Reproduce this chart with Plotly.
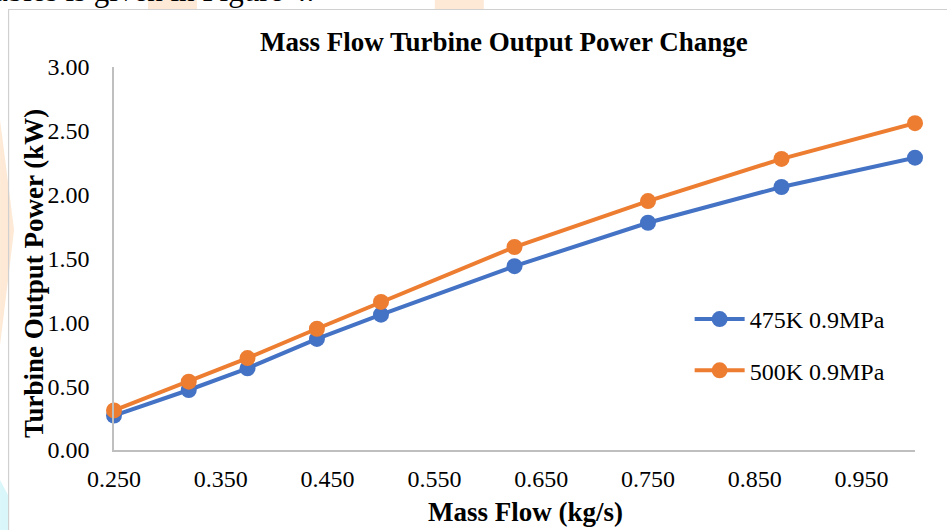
import plotly.graph_objects as go

# ---- data ----
mass_flow = [0.25, 0.32, 0.375, 0.44, 0.50, 0.625, 0.75, 0.875, 1.0]
power_475K = [0.27, 0.47, 0.64, 0.87, 1.06, 1.44, 1.78, 2.06, 2.29]
power_500K = [0.31, 0.535, 0.72, 0.95, 1.16, 1.59, 1.95, 2.28, 2.56]
series_names = ["475K 0.9MPa", "500K 0.9MPa"]
series_colors = ["#4472C4", "#ED7D31"]

# ---- layout geometry (pixels) ----
W, H = 947, 530
L, R, T, B = 114, 915.5, 67, 450
pw, ph = R - L, B - T


def px(x):
    return (x - L) / pw


def py(y):
    return (B - y) / ph


SERIF = "Liberation Serif, Times New Roman, serif"

fig = go.Figure()
for name, ys, col in zip(series_names, [power_475K, power_500K], series_colors):
    fig.add_trace(go.Scatter(
        x=mass_flow, y=ys, name=name, mode="lines+markers",
        line=dict(color=col, width=4),
        marker=dict(color=col, size=16),
        cliponaxis=False, legendgroup=name,
    ))

shapes = [
    # watermark fragments behind page text
    dict(type="rect", xref="paper", yref="paper", x0=px(148), x1=px(197), y0=py(0), y1=py(9.5),
         fillcolor="#FDE9D5", line_width=0, layer="below"),
    dict(type="rect", xref="paper", yref="paper", x0=px(435), x1=px(484), y0=py(0), y1=py(9.5),
         fillcolor="#FDE9D5", line_width=0, layer="below"),
    dict(type="path", xref="paper", yref="paper",
         path=f"M {px(0)},{py(120)} L {px(14)},{py(230)} L {px(0)},{py(345)} Z",
         fillcolor="#FDE9D5", line_width=0, layer="below"),
    dict(type="path", xref="paper", yref="paper",
         path=f"M {px(0)},{py(480)} L {px(8)},{py(495)} L {px(8)},{py(530)} L {px(0)},{py(530)} Z",
         fillcolor="#D9F7FA", line_width=0, layer="below"),
    # chart area border
    dict(type="rect", xref="paper", yref="paper", x0=px(8.5), x1=px(960), y0=py(9.5), y1=py(545),
         fillcolor="rgba(0,0,0,0)", line=dict(color="#D0D0D0", width=1.2), layer="below"),
]

annotations = [
    dict(text="ables is given in Figure 4.", xref="paper", yref="paper",
         x=px(-8), y=py(-9), xanchor="left", yanchor="middle", showarrow=False,
         font=dict(family=SERIF, size=31, color="#000000")),
    dict(text="<b>Mass Flow Turbine Output Power Change</b>", xref="paper", yref="paper",
         x=px(504), y=py(42), xanchor="center", yanchor="middle", showarrow=False,
         font=dict(family=SERIF, size=27, color="#000000")),
    dict(text="<b>Mass Flow (kg/s)</b>", xref="paper", yref="paper",
         x=px(526), y=py(512), xanchor="center", yanchor="middle", showarrow=False,
         font=dict(family=SERIF, size=27, color="#000000")),
    dict(text="<b>Turbine Output Power (kW)</b>", xref="paper", yref="paper",
         x=px(34), y=py(274), xanchor="center", yanchor="middle", showarrow=False,
         textangle=-90, font=dict(family=SERIF, size=27, color="#000000")),
]

fig.update_layout(
    width=W, height=H,
    margin=dict(l=L, r=W - R, t=T, b=H - B, autoexpand=False),
    paper_bgcolor="white", plot_bgcolor="white",
    font=dict(family=SERIF, size=24, color="#000000"),
    shapes=shapes, annotations=annotations,
    showlegend=True,
    legend=dict(x=px(690), y=py(297), xanchor="left", yanchor="top",
                bgcolor="rgba(0,0,0,0)", font=dict(family=SERIF, size=24),
                traceorder="grouped", tracegroupgap=17, itemwidth=50),
)
fig.update_xaxes(range=[0.25, 1.0], tick0=0.25, dtick=0.1, tickformat=".3f",
                 showgrid=False, zeroline=False, showline=True, linecolor="#BFBFBF",
                 linewidth=1.5, ticks="", ticklabelstandoff=6,
                 tickfont=dict(family=SERIF, size=24, color="#000000"))
fig.update_yaxes(range=[0, 3], tick0=0, dtick=0.5, tickformat=".2f",
                 showgrid=False, zeroline=False, showline=True, linecolor="#BFBFBF",
                 linewidth=1.5, ticks="", ticklabelstandoff=18,
                 tickfont=dict(family=SERIF, size=24, color="#000000"))

fig.write_html("out.html")
